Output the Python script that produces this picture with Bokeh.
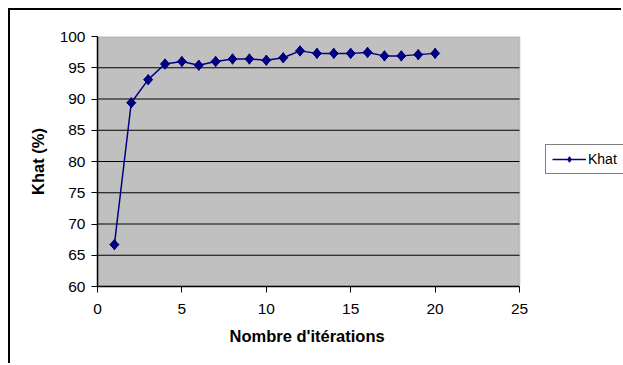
import numpy as np
from bokeh.plotting import figure
from bokeh.models import (ColumnDataSource, Legend, LegendItem, FixedTicker,
                          Range1d, BoxAnnotation, Title)
from bokeh.embed import file_html
from bokeh.resources import INLINE

iterations = [1, 2, 3, 4, 5, 6, 7, 8, 9, 10, 11, 12, 13, 14, 15, 16, 17, 18, 19, 20]
khat = [66.7, 89.4, 93.1, 95.6, 96.0, 95.4, 96.0, 96.4, 96.4, 96.2,
        96.6, 97.7, 97.3, 97.3, 97.3, 97.45, 96.9, 96.9, 97.1, 97.3]
x_ticks = [0, 5, 10, 15, 20, 25]
y_ticks = [60, 65, 70, 75, 80, 85, 90, 95, 100]
series_name = "Khat"
x_title = "Nombre d'itérations"
y_title = "Khat (%)"

FONT = "Liberation Sans"
NAVY = "#000080"

x_lo, x_hi = x_ticks[0], x_ticks[-1]
y_lo, y_hi = y_ticks[0], y_ticks[-1]

src = ColumnDataSource(dict(x=iterations, y=khat))
grid_src = ColumnDataSource(dict(y=y_ticks[1:-1],
                                 x0=[x_lo] * (len(y_ticks) - 2),
                                 x1=[x_hi] * (len(y_ticks) - 2)))

# frame extends to the right edge so the legend (outside the grey plot area) is visible
FRAME_W = 526
PLOT_W = 422
x_end = x_lo + (x_hi - x_lo) * FRAME_W / PLOT_W

p = figure(width=613, height=355, output_backend="svg", toolbar_location=None,
           x_range=Range1d(x_lo, x_end), y_range=Range1d(y_lo, y_hi),
           min_border_left=87, min_border_top=26, min_border_bottom=79,
           min_border_right=0)
p.styles = {"margin-left": "8px", "margin-top": "8px",
            "border-left": "2px solid #000", "border-top": "2px solid #000"}

p.background_fill_color = "white"
p.border_fill_color = "white"
p.outline_line_color = None

area = BoxAnnotation(left=x_lo, right=x_hi, bottom=y_lo, top=y_hi,
                     fill_color="#C0C0C0", fill_alpha=1,
                     line_color="#808080", line_width=2, level="underlay")
p.add_layout(area)

p.segment(x0="x0", x1="x1", y0="y", y1="y", source=grid_src,
          line_color="black", line_width=1)

ln = p.line("x", "y", source=src, line_color=NAVY, line_width=1.5)
# diamond used for the legend swatch; fully covered by the rotated squares below
dm = p.scatter("x", "y", source=src, marker="diamond", size=10.5,
               fill_color=NAVY, line_color=NAVY)
sc = p.scatter("x", "y", source=src, marker="square", angle=np.pi / 4, size=6.5,
               fill_color=NAVY, line_color=NAVY)

p.xaxis.ticker = FixedTicker(ticks=x_ticks)
p.yaxis.ticker = FixedTicker(ticks=y_ticks)
p.xaxis.bounds = (x_lo, x_hi)
p.xgrid.grid_line_color = None
p.ygrid.grid_line_color = None

for ax in (p.xaxis[0], p.yaxis[0]):
    ax.axis_line_color = "black"
    ax.axis_line_width = 1.5
    ax.major_tick_line_color = "black"
    ax.major_tick_out = 6
    ax.major_tick_in = 0
    ax.minor_tick_out = 0
    ax.minor_tick_in = 0
    ax.major_label_text_font = FONT
    ax.major_label_text_font_size = "15.5px"
    ax.major_label_text_color = "black"
    ax.axis_label_text_font = FONT
    ax.axis_label_text_font_style = "bold"
    ax.axis_label_text_font_size = "16.5px"
    ax.axis_label_text_color = "black"

p.yaxis.axis_label = y_title
p.xaxis.major_label_standoff = 11
p.yaxis.major_label_standoff = 6
p.yaxis.axis_label_standoff = 10

xt = Title(text=x_title, align="left", offset=132, standoff=16,
           text_font=FONT, text_font_style="bold", text_font_size="16.5px",
           text_color="black")
p.add_layout(xt, "below")

legend = Legend(items=[LegendItem(label=series_name, renderers=[ln, dm])],
                location=(448, 112), orientation="vertical",
                label_text_font=FONT, label_text_font_size="14px",
                label_text_color="black",
                glyph_width=34, glyph_height=14, label_standoff=2,
                padding=6, margin=0, spacing=0,
                border_line_color="black", border_line_width=1,
                background_fill_color="white", background_fill_alpha=1)
p.add_layout(legend, "center")

open("out.html", "w").write(file_html(p, INLINE))
